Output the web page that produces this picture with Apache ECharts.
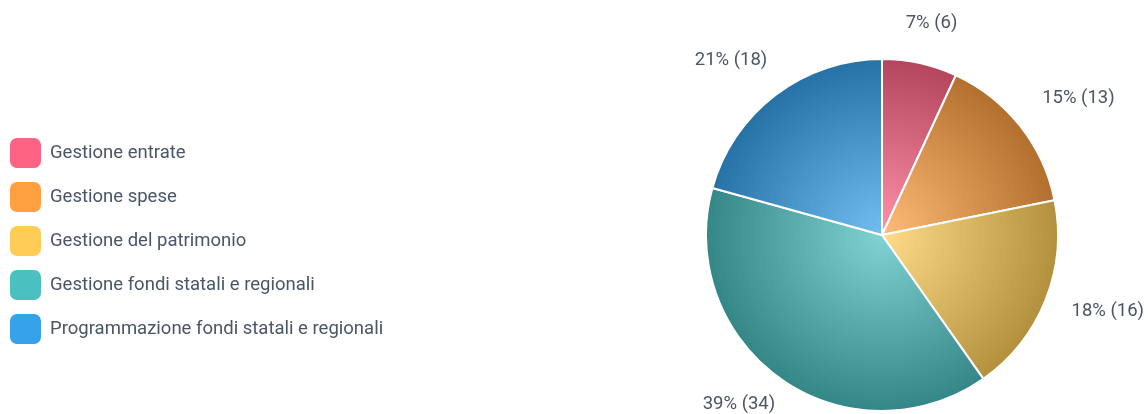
<!DOCTYPE html>
<html>
<head>
<meta charset="utf-8">
<script src="https://cdn.jsdelivr.net/npm/echarts@6/dist/echarts.min.js"></script>
<style>
  html, body { margin: 0; padding: 0; background: #fff; }
  #m1 { width: 1148px; height: 414px; }
</style>
</head>
<body>
<div id="m1"></div>
<script>
// dati
var categories = ['Gestione entrate', 'Gestione spese', 'Gestione del patrimonio',
                  'Gestione fondi statali e regionali', 'Programmazione fondi statali e regionali'];
var values = [6, 13, 16, 34, 18];
var baseColors = ['#ff6384', '#ff9f40', '#ffcd56', '#4bc0c0', '#36a2eb'];

var CX = 882, CY = 235, R = 176;

function shade(hex, f) {
    // f > 0 schiarisce verso il bianco, f < 0 scurisce
    var n = parseInt(hex.slice(1), 16);
    var c = [(n >> 16) & 255, (n >> 8) & 255, n & 255].map(function (v) {
        return Math.round(f >= 0 ? v + (255 - v) * f : v * (1 + f));
    });
    return 'rgb(' + c.join(',') + ')';
}

function radial(hex) {
    return {
        type: 'radial', x: CX, y: CY, r: R, global: true,
        colorStops: [
            { offset: 0, color: shade(hex, 0.3) },
            { offset: 1, color: shade(hex, -0.3) }
        ]
    };
}

var total = values.reduce(function (a, b) { return a + b; }, 0);

var myChart = echarts.init(document.getElementById('m1'));

var option = {
    animation: false,
    legend: {
        orient: 'vertical',
        left: 8,
        top: 136,
        padding: 0,
        itemWidth: 33,
        itemHeight: 32,
        itemGap: 10,
        icon: 'roundRect',
        textStyle: { fontFamily: 'Roboto', fontSize: 18.5, color: '#4a5567', padding: [0, 0, 0, 3] },
        data: categories.map(function (name, i) {
            return { name: name, itemStyle: { color: baseColors[i] } };
        })
    },
    series: [{
        type: 'pie',
        center: [CX, CY],
        radius: [0, R],
        startAngle: 90,
        clockwise: true,
        data: categories.map(function (name, i) {
            return { name: name, value: values[i], itemStyle: { color: radial(baseColors[i]) } };
        }),
        itemStyle: { borderColor: '#fff', borderWidth: 2 },
        label: {
            show: true,
            position: 'outside',
            alignTo: 'none',
            overflow: 'none',
            fontFamily: 'Roboto',
            fontSize: 18.5,
            color: '#4a5567',
            padding: 4,
            formatter: function (p) {
                return Math.round(p.value / total * 100) + '% (' + p.value + ')';
            }
        },
        labelLine: { show: false },
        labelLayout: function (params) {
            var i = params.dataIndex;
            var cum = 0;
            for (var k = 0; k < i; k++) cum += values[k];
            var mid = -Math.PI / 2 + 2 * Math.PI * (cum + values[i] / 2) / total;
            var vx = Math.cos(mid), vy = Math.sin(mid);
            var w = params.labelRect.width, h = params.labelRect.height;
            var vs = 1 / Math.max(Math.abs(vx), Math.abs(vy));
            var off = 28;
            var x = CX + vx * R + vx * vs * w / 2 + off * vx;
            var y = CY + vy * R + vy * vs * h / 2 + off * vy - 3;
            y = Math.min(y, 414 - h / 2);
            x = Math.min(x, 1148 - w / 2);
            return { x: x, y: y, align: 'center', verticalAlign: 'middle' };
        },
        emphasis: { disabled: true }
    }]
};

myChart.setOption(option);
window.addEventListener('resize', function () {
    myChart.resize();
});
</script>
</body>
</html>
